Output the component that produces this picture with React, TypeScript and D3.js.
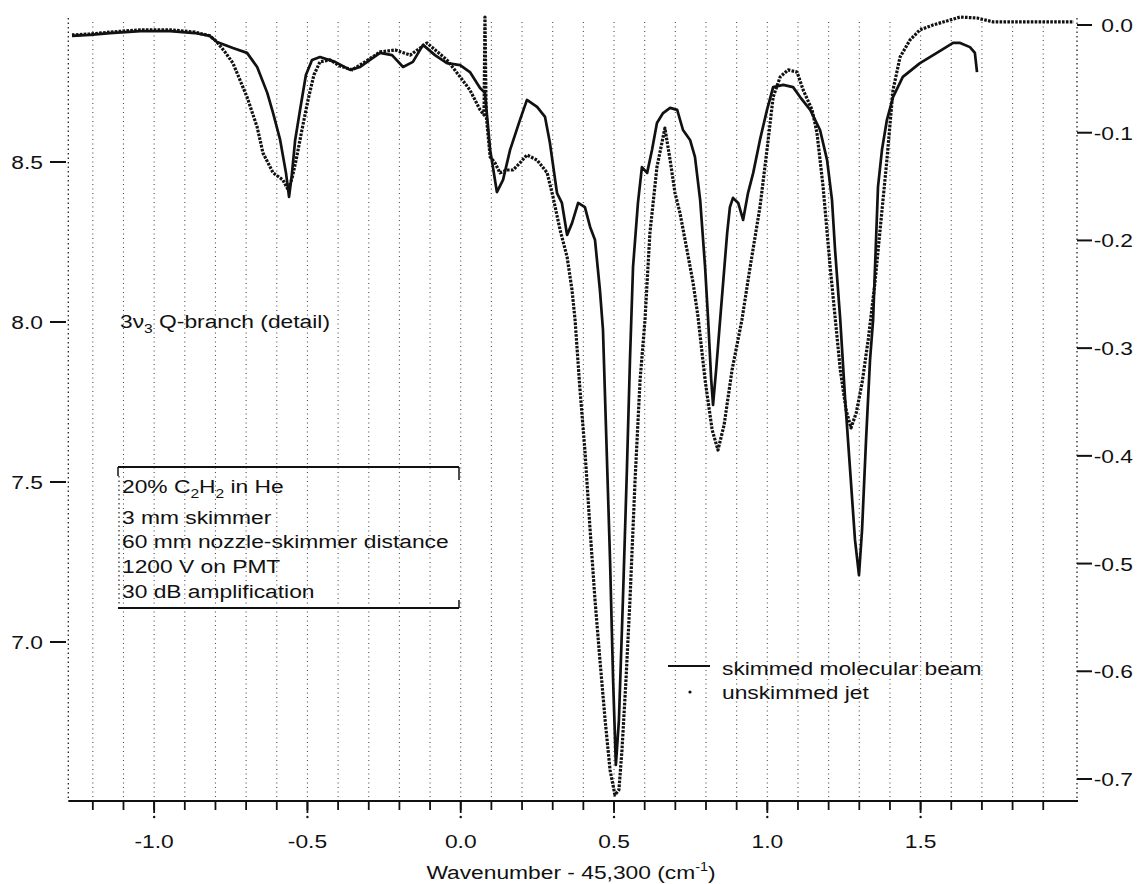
import React from "react";
import * as d3 from "d3";

// ---- data (wavenumber - 45,300 cm^-1, signal on left axis) ----
const skimmedX = [
  -1.268, -1.209, -1.144, -1.045, -0.948, -0.867, -0.818, -0.795, -0.743, -0.697,
  -0.664, -0.631, -0.612, -0.589, -0.57, -0.56, -0.551, -0.54, -0.524, -0.505,
  -0.485, -0.459, -0.41, -0.361, -0.328, -0.296, -0.263, -0.224, -0.188, -0.156,
  -0.123, -0.084, -0.045, -0.002, 0.03, 0.063, 0.079, 0.096, 0.118, 0.138,
  0.161, 0.193, 0.216, 0.249, 0.275, 0.291, 0.314, 0.33, 0.347, 0.363,
  0.383, 0.405, 0.422, 0.438, 0.454, 0.464, 0.474, 0.487, 0.497, 0.506,
  0.516, 0.529, 0.542, 0.552, 0.562, 0.578, 0.591, 0.608, 0.624, 0.64,
  0.66, 0.683, 0.706, 0.725, 0.748, 0.764, 0.781, 0.797, 0.807, 0.817,
  0.823, 0.833, 0.846, 0.869, 0.878, 0.888, 0.905, 0.921, 0.937, 0.954,
  0.976, 0.999, 1.019, 1.052, 1.084, 1.107, 1.14, 1.172, 1.195, 1.211,
  1.221, 1.238, 1.254, 1.27, 1.286, 1.299, 1.309, 1.322, 1.335, 1.345,
  1.361, 1.374, 1.39, 1.41, 1.442, 1.498, 1.553, 1.606, 1.629, 1.661,
  1.677, 1.684,
];
const skimmedY = [
  8.894, 8.897, 8.903, 8.909, 8.909, 8.903, 8.894, 8.875, 8.856, 8.841,
  8.797, 8.716, 8.653, 8.569, 8.466, 8.391, 8.459, 8.569, 8.663, 8.772,
  8.819, 8.828, 8.813, 8.788, 8.797, 8.819, 8.841, 8.834, 8.797, 8.813,
  8.866, 8.834, 8.809, 8.803, 8.781, 8.731, 8.716, 8.538, 8.406, 8.444,
  8.538, 8.631, 8.694, 8.672, 8.641, 8.559, 8.403, 8.372, 8.272, 8.309,
  8.372, 8.359, 8.297, 8.256, 8.1, 7.975, 7.663, 7.256, 6.881, 6.616,
  6.756, 7.131, 7.538, 7.881, 8.172, 8.372, 8.484, 8.466, 8.538, 8.622,
  8.653, 8.669, 8.663, 8.6, 8.569, 8.516, 8.381, 8.172, 8.006, 7.819,
  7.741, 7.85, 8.006, 8.278, 8.359, 8.388, 8.372, 8.319, 8.403, 8.466,
  8.569, 8.663, 8.734, 8.741, 8.734, 8.703, 8.663, 8.6, 8.506, 8.381,
  8.225, 8.006, 7.756, 7.538, 7.319, 7.209, 7.35, 7.631, 7.881, 8.006,
  8.422, 8.538, 8.631, 8.703, 8.766, 8.809, 8.841, 8.872, 8.872, 8.859,
  8.841, 8.781,
];
const jetX = [
  -1.268, -1.209, -1.144, -1.045, -0.948, -0.867, -0.818, -0.795, -0.769, -0.743,
  -0.72, -0.697, -0.664, -0.645, -0.612, -0.58, -0.563, -0.55, -0.537, -0.518,
  -0.498, -0.479, -0.459, -0.426, -0.394, -0.354, -0.312, -0.263, -0.214, -0.165,
  -0.11, -0.045, -0.002, 0.03, 0.063, 0.076, 0.079, 0.083, 0.096, 0.112,
  0.128, 0.151, 0.171, 0.193, 0.216, 0.249, 0.282, 0.301, 0.324, 0.347,
  0.363, 0.373, 0.389, 0.405, 0.422, 0.438, 0.454, 0.471, 0.487, 0.503,
  0.516, 0.526, 0.539, 0.552, 0.569, 0.585, 0.601, 0.617, 0.64, 0.666,
  0.683, 0.699, 0.715, 0.738, 0.758, 0.774, 0.797, 0.82, 0.839, 0.859,
  0.885, 0.917, 0.944, 0.976, 0.999, 1.019, 1.042, 1.068, 1.097, 1.117,
  1.146, 1.162, 1.182, 1.205, 1.221, 1.238, 1.257, 1.273, 1.29, 1.309,
  1.329, 1.351, 1.371, 1.39, 1.41, 1.433, 1.465, 1.498, 1.54, 1.629,
  1.684, 1.736, 1.857, 2.0,
];
const jetY = [
  8.897, 8.9, 8.906, 8.913, 8.913, 8.906, 8.894, 8.875, 8.844, 8.809,
  8.756, 8.703, 8.609, 8.528, 8.466, 8.444, 8.413, 8.45, 8.506, 8.6,
  8.694, 8.772, 8.813, 8.819, 8.8, 8.788, 8.813, 8.844, 8.85, 8.834,
  8.872, 8.819, 8.766, 8.725, 8.663, 8.647, 8.953, 8.647, 8.516, 8.497,
  8.466, 8.475, 8.475, 8.497, 8.522, 8.506, 8.466, 8.391, 8.288, 8.203,
  8.1, 8.006, 7.788, 7.6, 7.35, 7.131, 6.944, 6.756, 6.6, 6.522,
  6.538, 6.663, 6.881, 7.131, 7.513, 7.819, 8.006, 8.278, 8.484, 8.606,
  8.506, 8.403, 8.341, 8.225, 8.122, 8.016, 7.819, 7.663, 7.6, 7.678,
  7.85, 8.006, 8.172, 8.359, 8.538, 8.703, 8.766, 8.788, 8.781, 8.725,
  8.663, 8.591, 8.422, 8.172, 8.016, 7.85, 7.725, 7.669, 7.716, 7.809,
  7.944, 8.122, 8.319, 8.506, 8.725, 8.828, 8.881, 8.913, 8.928, 8.953,
  8.95, 8.938, 8.938, 8.938,
];

const leftTicks = [7.0, 7.5, 8.0, 8.5];
const rightTicks = [0.0, -0.1, -0.2, -0.3, -0.4, -0.5, -0.6, -0.7];
const xMajorTicks = [-1.0, -0.5, 0.0, 0.5, 1.0, 1.5];
const xMinorTicks = [
  -1.2, -1.1, -1.0, -0.9, -0.8, -0.7, -0.6, -0.5, -0.4, -0.3, -0.2, -0.1, 0.0,
  0.1, 0.2, 0.3, 0.4, 0.5, 0.6, 0.7, 0.8, 0.9, 1.0, 1.1, 1.2, 1.3, 1.4, 1.5,
  1.6, 1.7, 1.8, 1.9,
];
const seriesNames = ["skimmed molecular beam", "unskimmed jet"];

const W = 1141;
const H = 884;
const FONT = "'Liberation Sans', Arial, Helvetica, sans-serif";
const FS = 19;
const SX = 1.2;

function T({ x, y, anchor = "start", children, size = FS }: any) {
  return (
    <text
      transform={`translate(${x},${y}) scale(${SX},1)`}
      textAnchor={anchor}
      fontFamily={FONT}
      fontSize={size}
      fill="#111"
    >
      {children}
    </text>
  );
}

export default function App() {
  const x = d3.scaleLinear().domain([-1.28, 2.0]).range([68.3, 1073.9]);
  const yL = d3.scaleLinear().domain([6.5, 8.95]).range([802, 18]);
  const yR = d3.scaleLinear().domain([-0.7, 0]).range([779, 25]);
  const axisY = 801;
  const top = 18;
  const rightX = 1077;

  const line = d3
    .line<[number, number]>()
    .x((d) => x(d[0]))
    .y((d) => yL(d[1]));
  const skimmed = d3.zip(skimmedX, skimmedY) as [number, number][];
  const jet = d3.zip(jetX, jetY) as [number, number][];

  const grid = "1 3.5";
  const sub = { fontSize: 13 };

  return (
    <svg
      width={W}
      height={H}
      style={{ position: "absolute", left: 0, top: 0, background: "#fff" }}
    >
      <rect width={W} height={H} fill="#fff" />
      {/* vertical dotted grid */}
      {xMinorTicks.map((t) => (
        <line
          key={"g" + t}
          x1={x(t)}
          x2={x(t)}
          y1={top + 4}
          y2={axisY}
          stroke="#222"
          strokeWidth={1.1}
          strokeDasharray={grid}
          opacity={0.8}
        />
      ))}
      {/* left axis */}
      <line x1={x(-1.28)} x2={x(-1.28)} y1={top} y2={axisY} stroke="#222" strokeWidth={1.3} strokeDasharray="1.5 3" />
      {leftTicks.map((t) => (
        <g key={"l" + t}>
          <line x1={50} x2={66} y1={yL(t)} y2={yL(t)} stroke="#111" strokeWidth={2} />
          <T x={43} y={yL(t) + 7} anchor="end">{t.toFixed(1)}</T>
        </g>
      ))}
      {/* right axis */}
      <line x1={rightX} x2={rightX} y1={top} y2={axisY} stroke="#222" strokeWidth={1.3} strokeDasharray="1.5 3" />
      {rightTicks.map((t) => (
        <g key={"r" + t}>
          <line x1={rightX} x2={rightX + 15} y1={yR(t)} y2={yR(t)} stroke="#111" strokeWidth={2} />
          <T x={1133} y={yR(t) + 7} anchor="end">{t.toFixed(1)}</T>
        </g>
      ))}
      {/* bottom axis */}
      <line x1={x(-1.28)} x2={rightX + 1} y1={axisY} y2={axisY} stroke="#111" strokeWidth={2.2} />
      {xMinorTicks.map((t) => (
        <line key={"m" + t} x1={x(t)} x2={x(t)} y1={axisY} y2={axisY + 9} stroke="#111" strokeWidth={1.8} />
      ))}
      {xMajorTicks.map((t) => (
        <g key={"M" + t}>
          <line x1={x(t)} x2={x(t)} y1={axisY} y2={axisY + 12} stroke="#111" strokeWidth={1.8} />
          <circle cx={x(t)} cy={axisY + 16} r={1.2} fill="#111" />
          <T x={x(t)} y={848} anchor="middle">{t.toFixed(1)}</T>
        </g>
      ))}
      <T x={571} y={879} anchor="middle">
        Wavenumber - 45,300 (cm
        <tspan fontSize={12} dy={-8}>-1</tspan>
        <tspan dy={8}>)</tspan>
      </T>

      {/* curves */}
      <path d={line(jet) || ""} fill="none" stroke="#111" strokeWidth={3.2} strokeDasharray="2.6 1.3" strokeLinejoin="round" />
      <path d={line(skimmed) || ""} fill="none" stroke="#111" strokeWidth={2.7} strokeLinejoin="round" />

      {/* annotation */}
      <T x={120} y={328}>
        3ν<tspan {...sub} dy={5}>3</tspan>
        <tspan dy={-5}> Q-branch (detail)</tspan>
      </T>

      {/* info box */}
      <g stroke="#111" fill="none">
        <line x1={118} x2={459} y1={467} y2={467} strokeWidth={2} />
        <line x1={118} x2={118} y1={467} y2={476} strokeWidth={1.5} />
        <line x1={459} x2={459} y1={467} y2={480} strokeWidth={1.5} />
        <line x1={119} x2={119} y1={476} y2={606} strokeWidth={1.1} strokeDasharray="1.5 3" />
        <line x1={118} x2={459} y1={608} y2={608} strokeWidth={2} />
        <line x1={459} x2={459} y1={600} y2={608} strokeWidth={1.5} />
      </g>
      <T x={122} y={493}>
        20% C<tspan {...sub} dy={5}>2</tspan>
        <tspan dy={-5}>H</tspan>
        <tspan {...sub} dy={5}>2</tspan>
        <tspan dy={-5}> in He</tspan>
      </T>
      <T x={122} y={524}>3 mm skimmer</T>
      <T x={122} y={548}>60 mm nozzle-skimmer distance</T>
      <T x={122} y={573}>1200 V on PMT</T>
      <T x={122} y={598}>30 dB amplification</T>

      {/* legend */}
      <line x1={668} x2={710} y1={666} y2={666} stroke="#111" strokeWidth={2} />
      <circle cx={690} cy={692} r={1.6} fill="#111" />
      <T x={722} y={675}>{seriesNames[0]}</T>
      <T x={722} y={699}>{seriesNames[1]}</T>
    </svg>
  );
}
